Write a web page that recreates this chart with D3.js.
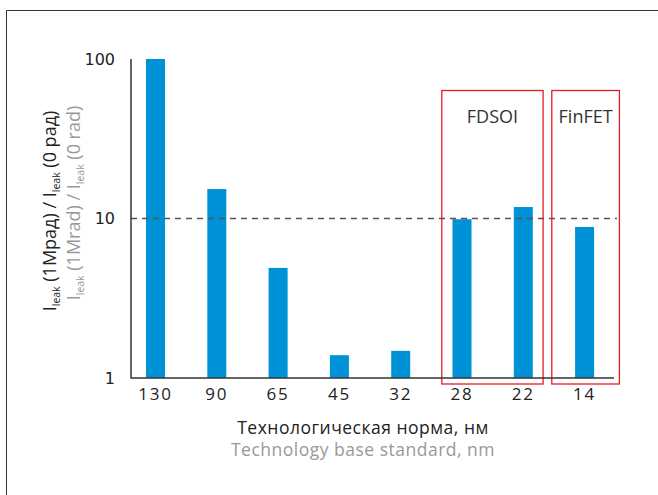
<!DOCTYPE html>
<html>
<head>
<meta charset="utf-8">
<script src="https://cdn.jsdelivr.net/npm/d3@7"></script>
<style>
  html, body { margin: 0; padding: 0; background: #fff; }
  svg { display: block; }
</style>
</head>
<body>
<svg id="chart" width="658" height="495"></svg>
<script>
const categories = ["130", "90", "65", "45", "32", "28", "22", "14"];
const values = [100, 15.3, 4.9, 1.39, 1.48, 9.9, 11.8, 8.85];
const yTicks = [1, 10, 100];
const referenceLevel = 10;
const groups = [
  { label: "FDSOI", members: ["28", "22"] },
  { label: "FinFET", members: ["14"] }
];
const yTitleRu = ["I", "leak", " (1Мрад) / I", "leak", " (0 рад)"];
const yTitleEn = ["I", "leak", " (1Mrad) / I", "leak", " (0 rad)"];
const xTitleRu = "Технологическая норма, нм";
const xTitleEn = "Technology base standard, nm";

const svg = d3.select("#chart");

// outer frame (left + top)
svg.append("path")
  .attr("d", "M6.5,495 L6.5,10.5 L658,10.5")
  .attr("fill", "none").attr("stroke", "#333").attr("stroke-width", 1);

const axisX0 = 131, axisX1 = 614;
const x = d3.scaleBand().domain(categories).range([124.85, 615.25])
  .paddingInner(0.69).paddingOuter(0.345);
const y = d3.scaleLog().domain([1, 100]).range([378, 59]);

// bars
svg.append("g").selectAll("rect").data(categories).join("rect")
  .attr("x", d => x(d))
  .attr("width", x.bandwidth())
  .attr("y", (d, i) => y(values[i]))
  .attr("height", (d, i) => y(1) - y(values[i]))
  .attr("fill", "#0092d6");

// dashed reference line
svg.append("line")
  .attr("x1", axisX0).attr("x2", 617)
  .attr("y1", y(referenceLevel)).attr("y2", y(referenceLevel))
  .attr("stroke", "#555").attr("stroke-width", 1.5)
  .attr("stroke-dasharray", "6,5");

// group boxes
groups.forEach(g => {
  const first = x(g.members[0]);
  const last = x(g.members[g.members.length - 1]) + x.bandwidth();
  const left = first - (g.label === "FinFET" ? 23.3 : 10.7);
  const right = last + (g.label === "FinFET" ? 25.3 : 10.3);
  svg.append("rect")
    .attr("x", left).attr("y", 90.5)
    .attr("width", right - left).attr("height", 293.5)
    .attr("fill", "none").attr("stroke", "#e31e24").attr("stroke-width", 1.3);
  svg.append("text")
    .attr("x", (left + right) / 2).attr("y", 123)
    .attr("text-anchor", "middle")
    .attr("font-family", "'Open Sans', sans-serif")
    .attr("font-size", 18)
    .attr("fill", "#333")
    .text(g.label);
});

// axis lines
svg.append("line").attr("x1", axisX0).attr("x2", axisX0)
  .attr("y1", y(100)).attr("y2", y(1) + 0.5)
  .attr("stroke", "#333").attr("stroke-width", 1.5);
svg.append("line").attr("x1", axisX0).attr("x2", axisX1)
  .attr("y1", y(1)).attr("y2", y(1))
  .attr("stroke", "#333").attr("stroke-width", 1.5);

// y axis ticks
const yAxis = svg.append("g").attr("transform", `translate(${axisX0},0)`)
  .call(d3.axisLeft(y).tickValues(yTicks).tickSize(0).tickPadding(16)
    .tickFormat(d3.format("d")));
yAxis.select(".domain").remove();
yAxis.selectAll("text")
  .attr("font-family", "'DejaVu Sans', sans-serif")
  .attr("font-size", 16).attr("fill", "#222");

// x axis ticks
const xAxis = svg.append("g").attr("transform", `translate(0,${y(1)})`)
  .call(d3.axisBottom(x).tickSize(0).tickPadding(10));
xAxis.select(".domain").remove();
xAxis.selectAll("text")
  .attr("font-family", "'Open Sans', sans-serif")
  .attr("font-size", 17).attr("letter-spacing", 1.8).attr("fill", "#222");

// x titles
svg.append("text").attr("x", 363).attr("y", 434)
  .attr("text-anchor", "middle")
  .attr("font-family", "'Open Sans', sans-serif").attr("font-size", 17.5)
  .attr("letter-spacing", 0.5)
  .attr("fill", "#222").text(xTitleRu);
svg.append("text").attr("x", 363).attr("y", 456)
  .attr("text-anchor", "middle")
  .attr("font-family", "'Open Sans', sans-serif").attr("font-size", 17.5)
  .attr("letter-spacing", 0.5)
  .attr("fill", "#999").text(xTitleEn);

// y titles
function yTitle(parts, tx, ty, color) {
  const t = svg.append("text")
    .attr("transform", `translate(${tx},${ty}) rotate(-90)`)
    .attr("text-anchor", "middle")
    .attr("font-family", "'Open Sans', sans-serif")
    .attr("font-size", 18).attr("fill", color);
  parts.forEach((p, i) => {
    const sp = t.append("tspan").text(p);
    if (i % 2 === 1) sp.attr("font-size", 10.5).attr("dy", 4);
    else if (i > 0) sp.attr("dy", -4);
  });
}
yTitle(yTitleRu, 56, 211, "#222");
yTitle(yTitleEn, 80, 203, "#999");
</script>
</body>
</html>
